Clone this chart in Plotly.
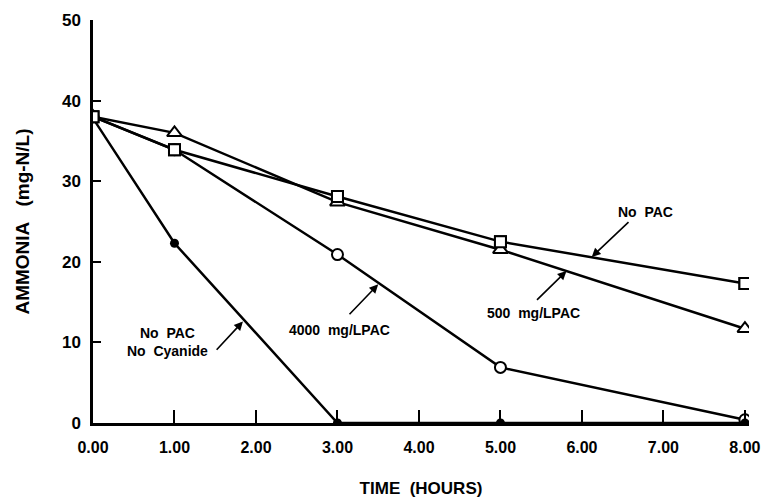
import plotly.graph_objects as go

time_h = [0, 1, 3, 5, 8]
no_pac = [38.0, 33.9, 28.1, 22.5, 17.3]
pac_500 = [38.0, 36.0, 27.4, 21.5, 11.7]
pac_4000 = [38.0, 33.9, 20.9, 6.9, 0.4]
no_pac_no_cn = [37.8, 22.3, 0.0, 0.0, 0.0]

x_ticks = [0, 1, 2, 3, 4, 5, 6, 7, 8]
x_tick_labels = ["0.00", "1.00", "2.00", "3.00", "4.00", "5.00", "6.00", "7.00", "8.00"]
y_ticks = [0, 10, 20, 30, 40, 50]

# label text, label position (x, y), arrow tail (x, y), arrow head (x, y)
labels = ["No  PAC", "500  mg/LPAC", "4000  mg/LPAC", "No  PAC<br>No  Cyanide"]
label_x = [6.78, 5.41, 3.03, 0.91]
label_y = [26.2, 13.7, 11.5, 10.0]
tail_x = [6.59, 5.43, 3.13, 1.50]
tail_y = [25.1, 15.1, 13.3, 8.9]
head_x = [6.12, 5.81, 3.50, 1.84]
head_y = [20.6, 18.85, 17.2, 12.6]

fig = go.Figure()
line = dict(color="black", width=2.5)
fig.add_trace(go.Scatter(x=time_h, y=no_pac, mode="lines+markers", line=line,
                         marker=dict(symbol="square-open", size=11, color="black", line=dict(width=2))))
fig.add_trace(go.Scatter(x=time_h, y=pac_500, mode="lines+markers", line=line,
                         marker=dict(symbol="triangle-up", size=13, color="white", line=dict(width=2, color="black"))))
fig.add_trace(go.Scatter(x=time_h, y=pac_4000, mode="lines+markers", line=line,
                         marker=dict(symbol="circle", size=11, color="white", line=dict(width=2, color="black"))))
fig.add_trace(go.Scatter(x=time_h, y=no_pac_no_cn, mode="lines+markers", line=line,
                         marker=dict(symbol="circle", size=9, color="black")))
# keep the open square drawn on top
fig.add_trace(go.Scatter(x=time_h, y=no_pac, mode="markers",
                         marker=dict(symbol="square", size=11, color="white", line=dict(width=2, color="black"))))

for t, lx, ly, tx, ty, hx, hy in zip(labels, label_x, label_y, tail_x, tail_y, head_x, head_y):
    fig.add_annotation(x=lx, y=ly, text=t, showarrow=False,
                       font=dict(family="Liberation Sans", size=14, color="black", weight="bold"))
    fig.add_annotation(x=hx, y=hy, ax=tx, ay=ty, axref="x", ayref="y", text="",
                       showarrow=True, arrowhead=2, arrowsize=1.1, arrowwidth=1.6, arrowcolor="black")

font = dict(family="Liberation Sans", color="black")
fig.update_layout(
    width=773, height=498, showlegend=False,
    paper_bgcolor="white", plot_bgcolor="white",
    margin=dict(l=93, r=24, t=20, b=75),
    font=font,
)
fig.update_xaxes(range=[0, 8.05], tickvals=x_ticks, ticktext=x_tick_labels,
                 ticks="inside", ticklen=13, tickwidth=1.5, tickcolor="black",
                 ticklabelstandoff=8, automargin=False,
                 showline=True, linewidth=2.5, linecolor="black", showgrid=False, zeroline=False,
                 tickfont=dict(family="Liberation Sans", size=16, color="black", weight="bold"),
                 title=dict(text="TIME  (HOURS)", standoff=28,
                            font=dict(family="Liberation Sans", size=17, color="black", weight="bold")))
fig.update_yaxes(range=[0, 50], tickvals=y_ticks,
                 ticks="inside", ticklen=8, tickwidth=1.5, tickcolor="black",
                 ticklabelstandoff=6, automargin=False,
                 showline=True, linewidth=2.5, linecolor="black", showgrid=False, zeroline=False,
                 tickfont=dict(family="Liberation Sans", size=17, color="black", weight="bold"),
                 title=dict(text="AMMONIA   (mg-N/L)", standoff=28,
                            font=dict(family="Liberation Sans", size=19, color="black", weight="bold")))

fig.write_html("out.html")
